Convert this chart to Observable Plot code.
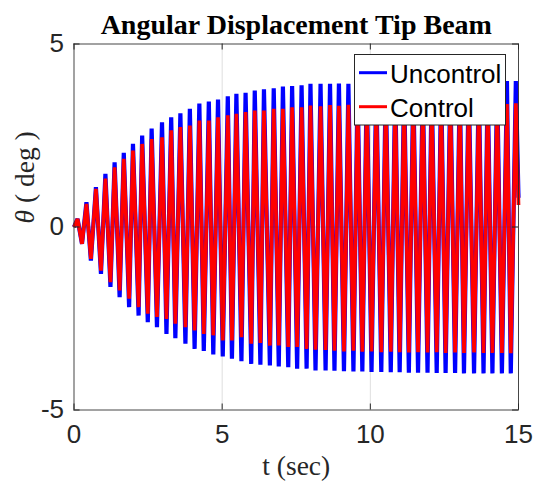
<!DOCTYPE html>
<html><head><meta charset="utf-8">
<script src="https://cdn.jsdelivr.net/npm/d3@7"></script>
<script src="https://cdn.jsdelivr.net/npm/@observablehq/plot@0.6"></script>
<style>
html,body{margin:0;padding:0;background:#fff;}
#wrap{position:relative;width:535px;height:482px;overflow:hidden;background:#fff;}
</style></head><body><div id="wrap"></div>
<script>
const titleText = "Angular Displacement Tip Beam";
const xLabel = "t (sec)";
const yLabel = "θ ( deg )";
const seriesNames = ["Uncontrol", "Control"];
const seriesColors = ["#0000ff", "#ff0000"];
const xTicks = [0, 5, 10, 15];
const yTicks = [-5, 0, 5];
const gridXAt = [5, 10];
const gridYAt = [0];

// turning points (seconds)
const tSec = [0, 0.12, 0.27, 0.42, 0.57, 0.74, 0.91, 1.06, 1.23, 1.37, 1.54, 1.68, 1.86, 1.99, 2.18, 2.30, 2.49, 2.62, 2.80, 2.97, 3.12, 3.28, 3.42, 3.59, 3.76, 3.91, 4.07, 4.23, 4.38, 4.55, 4.70, 4.86, 5.02, 5.19, 5.33, 5.48, 5.65, 5.79, 5.98, 6.10, 6.29, 6.41, 6.61, 6.74, 6.91, 7.05, 7.23, 7.36, 7.53, 7.68, 7.85, 7.98, 8.15, 8.32, 8.49, 8.64, 8.79, 8.94, 9.11, 9.26, 9.43, 9.57, 9.73, 9.88, 10.04, 10.20, 10.37, 10.52, 10.69, 10.84, 10.99, 11.14, 11.30, 11.45, 11.61, 11.77, 11.93, 12.07, 12.24, 12.39, 12.54, 12.70, 12.86, 13.02, 13.16, 13.32, 13.50, 13.66, 13.82, 13.96, 14.12, 14.28, 14.44, 14.61, 14.74, 14.91, 15.0];

const thetaUncontrol = [0,
 0.22, -0.46, 0.68, -0.92, 1.09, -1.28, 1.45, -1.64, 1.77, -1.92,
 2.03, -2.19, 2.27, -2.42, 2.50, -2.60, 2.69, -2.74, 2.86, -2.92,
 3.00, -3.04, 3.11, -3.19, 3.23, -3.33, 3.37, -3.39, 3.43, -3.48,
 3.48, -3.54, 3.57, -3.60, 3.64, -3.67, 3.67, -3.74, 3.73, -3.76,
 3.76, -3.78, 3.79, -3.81, 3.84, -3.83, 3.85, -3.87, 3.87, -3.87,
 3.91, -3.92, 3.91, -3.92, 3.91, -3.93, 3.92, -3.94, 3.91, -3.95,
 3.92, -3.95, 3.93, -3.96, 3.93, -3.96, 3.94, -3.97, 3.94, -3.97,
 3.95, -3.98, 3.95, -3.98, 3.95, -3.98, 3.96, -3.99, 3.96, -3.99,
 3.96, -3.99, 3.97, -4.00, 3.97, -4.00, 3.97, -4.00, 3.98, -4.00,
 3.98, -4.00, 3.99, -4.00, 3.99, 0.8];

const thetaControl = [0,
 0.22, -0.46, 0.63, -0.87, 1.04, -1.19, 1.32, -1.51, 1.63, -1.73,
 1.86, -1.96, 2.09, -2.19, 2.27, -2.37, 2.40, -2.46, 2.45, -2.51,
 2.64, -2.64, 2.73, -2.74, 2.77, -2.83, 2.91, -2.92, 2.91, -2.96,
 3.00, -3.10, 3.05, -3.10, 3.09, -3.01, 3.14, -3.19, 3.18, -3.17,
 3.18, -3.24, 3.23, -3.24, 3.23, -3.28, 3.27, -3.28, 3.27, -3.33,
 3.32, -3.35, 3.30, -3.36, 3.33, -3.38, 3.31, -3.40, 3.34, -3.38,
 3.32, -3.41, 3.35, -3.40, 3.33, -3.42, 3.35, -3.41, 3.34, -3.42,
 3.36, -3.43, 3.34, -3.42, 3.36, -3.43, 3.35, -3.42, 3.36, -3.44,
 3.35, -3.43, 3.37, -3.44, 3.35, -3.43, 3.37, -3.44, 3.36, -3.44,
 3.37, -3.44, 3.36, -3.45, 3.38, 0.6];

const W = 535, H = 482, mL = 73.5, mR = 17, mT = 43.5, mB = 72.5;
const fw = W - mL - mR, fh = H - mT - mB;
const tickLen = 6;
const axisColor = "#262626";
const serif = "'Liberation Serif', 'Times New Roman', serif";
const sans = "'Liberation Sans', Arial, Helvetica, sans-serif";
const rows = vals => tSec.map((t, i) => ({t, v: vals[i]}));

const plot = Plot.plot({
  width: W, height: H,
  marginLeft: mL, marginRight: mR, marginTop: mT, marginBottom: mB,
  style: {fontFamily: sans, fontSize: "26px", color: axisColor, background: "white", overflow: "visible"},
  x: {domain: [0, 15]},
  y: {domain: [-5, 5]},
  marks: [
    Plot.line(rows(thetaUncontrol), {x: "t", y: "v", stroke: seriesColors[0], strokeWidth: 4.2, strokeLinejoin: "bevel", strokeLinecap: "butt"}),
    Plot.line(rows(thetaControl), {x: "t", y: "v", stroke: seriesColors[1], strokeWidth: 3.7, strokeLinejoin: "bevel", strokeLinecap: "butt"}),
    Plot.gridX(gridXAt, {stroke: axisColor, strokeOpacity: 0.15}),
    Plot.gridY(gridYAt, {stroke: axisColor, strokeOpacity: 0.15}),
    Plot.frame({stroke: axisColor, strokeOpacity: 0.85}),
    Plot.ruleX(xTicks, {insetTop: fh - tickLen, stroke: axisColor}),
    Plot.ruleX(xTicks, {insetBottom: fh - tickLen, stroke: axisColor}),
    Plot.ruleY(yTicks, {insetRight: fw - tickLen, stroke: axisColor}),
    Plot.ruleY(yTicks, {insetLeft: fw - tickLen, stroke: axisColor}),
    Plot.axisX(xTicks, {tickSize: 0, tickPadding: 15, tickFormat: d => String(d), label: null}),
    Plot.axisY(yTicks, {tickSize: 0, tickPadding: 10, tickFormat: d => String(d), label: null}),
    Plot.text([titleText], {text: d => d, frameAnchor: "top", lineAnchor: "bottom", dy: -10.5, fontFamily: serif, fontSize: 28, fontWeight: "bold", fill: "#000"}),
    Plot.text([xLabel], {text: d => d, frameAnchor: "bottom", lineAnchor: "bottom", dy: 64.5, fontFamily: serif, fontSize: 27.5, fill: axisColor}),
    Plot.text([yLabel], {text: d => d, frameAnchor: "left", rotate: -90, dx: -48.5, dy: -3.5, lineAnchor: "middle", fontFamily: serif, fontSize: 27.5, fill: axisColor})
  ]
});

// italic theta in the y label
d3.select(plot).selectAll("text").each(function() {
  if (this.textContent === yLabel) {
    const sel = d3.select(this);
    sel.text(null);
    sel.append("tspan").attr("font-style", "italic").text(yLabel.slice(0, 1));
    sel.append("tspan").text(yLabel.slice(1));
  }
});

const wrap = document.getElementById("wrap");
wrap.appendChild(plot);

// legend overlay
const leg = d3.select(wrap).append("svg")
  .attr("width", W).attr("height", H)
  .style("position", "absolute").style("left", "0px").style("top", "0px");
leg.append("rect").attr("x", 354.5).attr("y", 54.5).attr("width", 151).attr("height", 70.5)
  .attr("fill", "white").attr("stroke", axisColor).attr("stroke-width", 1);
seriesNames.forEach((name, i) => {
  const cy = 72.7 + i * 34;
  leg.append("line").attr("x1", 359).attr("x2", 387).attr("y1", cy).attr("y2", cy)
    .attr("stroke", seriesColors[i]).attr("stroke-width", 3);
  leg.append("text").attr("x", 390).attr("y", cy + 10.6)
    .attr("font-family", sans).attr("font-size", 26).attr("fill", "#000").text(name);
});
</script></body></html>
